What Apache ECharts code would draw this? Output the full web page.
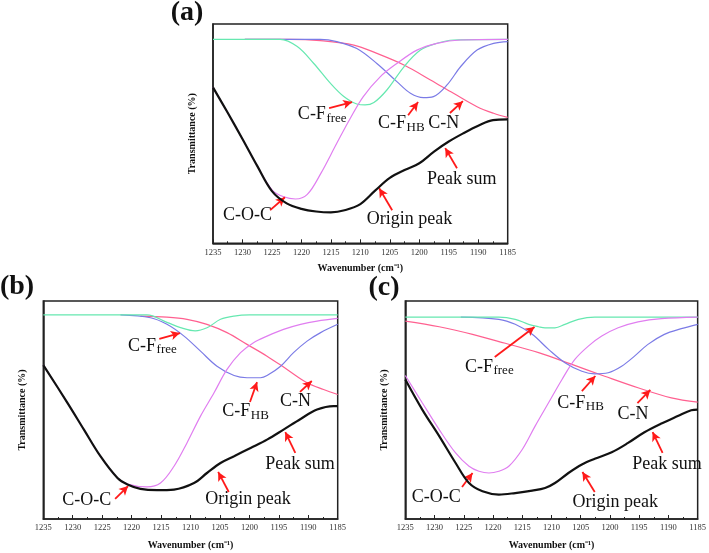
<!DOCTYPE html>
<html><head><meta charset="utf-8">
<script src="https://cdn.jsdelivr.net/npm/echarts@6/dist/echarts.min.js"></script>
<style>html,body{margin:0;padding:0;background:#fff}#c{width:709px;height:553px}</style>
</head><body><div id="c"></div>
<script>
// ---------- data (wavenumber, transmittance in arbitrary units) ----------
const aOrigin = [[1235,71.1],[1232.5,59.5],[1230,47.6],[1227.5,35.3],[1225,23.8],[1222.5,18.2],[1220,15.7],[1217.5,14.5],[1215,14.1],[1212.5,15.2],[1210,17.9],[1207.5,24.0],[1205,29.8],[1202.5,33.4],[1200,36.5],[1197.5,41.8],[1195,46.4],[1192.5,50.2],[1190,53.6],[1187.5,56.2],[1185,56.5]];
const aCOC = [[1235,71.1],[1232.5,59.5],[1230,47.6],[1227.5,35.3],[1225,24.4],[1223,21.2],[1221,20.2],[1219,22.3],[1216.7,31.9],[1214,45.6],[1211.7,57.0],[1209.5,66.9],[1206.6,76.0],[1203.8,82.0],[1200.4,88.1],[1197,91.2],[1193,92.7],[1185,93.0]];
const aFree = [[1235,93.0],[1223.6,93.0],[1220.7,89.7],[1217.9,82.0],[1215.1,73.0],[1212.8,66.9],[1210.6,63.5],[1209.2,63.1],[1207.7,64.2],[1205.5,69.9],[1202.6,80.5],[1199.8,88.1],[1197,91.2],[1194.2,92.7],[1185,93.0]];
const aHB = [[1229.6,93.0],[1216.8,93.0],[1214,92.0],[1210.6,88.8],[1207.2,82.0],[1203.8,73.7],[1201.5,68.4],[1199.3,66.4],[1197.6,66.9],[1195.3,72.2],[1193,80.5],[1190.2,88.1],[1187.4,91.2],[1185,92.0]];
const aCN = [[1229.6,93.0],[1222,93.0],[1216.8,92.4],[1211.1,90.4],[1207.2,86.6],[1202.6,81.3],[1198.1,74.5],[1194.2,68.4],[1190.2,62.3],[1187.4,59.3],[1185,57.4]];

const bOrigin = [[1235,70.6],[1230.9,53.3],[1228.1,41.0],[1225.3,28.8],[1222.4,18.8],[1220.7,15.8],[1218.5,13.8],[1215.7,13.2],[1212.8,13.5],[1209.4,16.5],[1207.2,21.1],[1204.9,25.7],[1202.6,28.8],[1199.8,32.6],[1197,36.4],[1194.2,41.0],[1191.3,45.9],[1188.5,50.2],[1185.7,51.8],[1185,51.8]];
const bCOC = [[1235,70.6],[1230.9,53.3],[1228.1,41.0],[1225.3,28.8],[1222.4,18.8],[1220.7,16.0],[1217.4,14.7],[1215.1,16.5],[1212.8,24.2],[1210.6,34.9],[1208.3,47.2],[1206,57.9],[1203.8,68.6],[1201.5,76.3],[1199.3,80.9],[1197,83.9],[1194.2,87.0],[1191.3,89.3],[1188.5,90.8],[1185,92.0]];
const bFree = [[1235,93.6],[1217.4,93.6],[1214,90.2],[1211.7,87.8],[1209.2,86.3],[1207.2,87.7],[1204.9,91.6],[1202.6,93.1],[1200,93.6],[1185,93.6]];
const bHB = [[1221.9,93.6],[1216.8,92.3],[1214,89.3],[1211.1,83.9],[1208.3,77.0],[1205.5,70.1],[1202.6,65.8],[1200.4,64.8],[1198.1,64.8],[1197,65.8],[1194.7,70.1],[1192.5,76.3],[1190.2,81.6],[1187.9,85.5],[1185,89.3]];
const bCN = [[1218.5,93.1],[1214,92.6],[1210.6,91.6],[1207.2,89.3],[1203.8,85.5],[1200.4,80.1],[1197,74.7],[1193.6,68.6],[1190.2,62.5],[1187.4,59.4],[1185,57.1]];

const cOrigin = [[1235,64.0],[1232.1,50.2],[1229.2,38.0],[1226.4,25.7],[1224.1,16.5],[1221.8,12.7],[1219,11.2],[1216.2,11.9],[1213.3,13.0],[1211.1,14.2],[1209.4,16.5],[1207.1,21.1],[1204.8,25.0],[1202.6,27.6],[1199.7,30.6],[1196.9,34.9],[1194.1,39.8],[1191.2,43.8],[1188.4,47.2],[1186.1,49.9],[1185,50.2]];
const cCOC = [[1235,65.8],[1232.1,53.3],[1229.2,41.0],[1226.4,30.3],[1224.1,24.2],[1222.4,21.9],[1220.7,21.1],[1219,21.9],[1217.3,24.2],[1215,31.9],[1212.8,42.6],[1210.5,53.3],[1208.2,64.0],[1206,73.2],[1203.7,79.3],[1201.4,83.9],[1198.6,87.7],[1195.2,90.4],[1191.2,91.9],[1185,92.6]];
const cFree = [[1235,92.6],[1219,92.6],[1216.2,91.6],[1213.9,89.3],[1212.2,88.2],[1211.1,87.7],[1209.4,87.7],[1207.7,89.3],[1205.4,91.6],[1202.6,92.6],[1185,92.6]];
const cHB = [[1225.5,92.6],[1219,91.6],[1216.2,89.3],[1213.3,84.7],[1210.5,77.8],[1207.7,71.7],[1204.8,67.8],[1202.6,66.6],[1200.3,67.1],[1198,70.1],[1195.8,74.7],[1193.5,80.1],[1190.7,84.7],[1187.8,87.3],[1185,89.3]];
const cCN = [[1235,90.8],[1229.2,88.2],[1223.5,84.7],[1217.9,80.6],[1212.2,76.3],[1206.5,70.9],[1200.9,65.5],[1195.2,60.2],[1189.5,55.6],[1185,53.6]];

// annotations: text anchor (x,y) and arrow [x1,y1,x2,y2], in data units
const annA = [
 {t:'C-F', s:'free', x:1220.6, y:58.9, a:[1215.3,61.6,1211.4,64.4]},
 {t:'C-F', s:'HB', x:1207.0, y:54.8, a:[1201.9,58.4,1200.2,64.4]},
 {t:'C-N', x:1198.5, y:54.8, a:[1194.8,59.4,1192.6,64.8]},
 {t:'Peak sum', x:1198.7, y:29.1, a:[1193.6,34.2,1195.6,43.4]},
 {t:'Origin peak', x:1208.9, y:11.1, a:[1204.6,15.1,1206.8,25.1]},
 {t:'C-O-C', x:1233.3, y:12.8, a:[1225.3,15.1,1222.8,21.0]}
];
const annB = [
 {t:'C-F', s:'free', x:1220.6, y:79.4, a:[1215.3,82.6,1211.8,85.3]},
 {t:'C-F', s:'HB', x:1204.6, y:49.2, a:[1199.9,53.7,1198.7,62.8]},
 {t:'C-N', x:1194.8, y:53.8, a:[1191.4,58.3,1189.4,63.3]},
 {t:'Peak sum', x:1197.3, y:25.1, a:[1192.2,30.3,1193.9,39.9]},
 {t:'Origin peak', x:1207.5, y:8.9, a:[1203.5,12.4,1205.3,21.6]},
 {t:'C-O-C', x:1231.8, y:8.7, a:[1222.8,9.2,1220.6,15.1]}
];
const annC = [
 {t:'C-F', s:'free', x:1224.8, y:69.7, a:[1219.7,74.3,1212.9,88.1]},
 {t:'C-F', s:'HB', x:1209.0, y:53.2, a:[1204.8,58.7,1202.5,65.6]},
 {t:'C-N', x:1198.7, y:48.2, a:[1195.3,53.2,1193.1,59.2]},
 {t:'Peak sum', x:1196.2, y:25.2, a:[1191.0,30.3,1192.7,39.9]},
 {t:'Origin peak', x:1206.4, y:7.8, a:[1202.6,12.4,1204.7,21.6]},
 {t:'C-O-C', x:1233.9, y:10.1, a:[1225.3,14.7,1223.5,21.1]}
];
const panelLabels = ['(a)','(b)','(c)'];

// ---------- chart ----------
const SERIF = '"Liberation Serif","Times New Roman",serif';
const panels = [
  {grid:{left:213, top:24, width:294.7, height:219.3}, data:[aCN,aHB,aFree,aCOC,aOrigin], ann:annA, label:[187,13], nameGap:20},
  {grid:{left:43.3, top:301, width:294.4, height:218}, data:[bCN,bHB,bFree,bCOC,bOrigin], ann:annB, label:[17,287], nameGap:21},
  {grid:{left:405.3, top:301, width:293, height:218}, data:[cCN,cHB,cFree,cCOC,cOrigin], ann:annC, label:[384,288], nameGap:21}
];
const colors = ['#ff6090','#7b7be6','#66e8b0','#e07ef0','#111111'];
const widths = [1.2,1.2,1.2,1.2,2.2];

const option = {
  animation:false,
  backgroundColor:'#fff',
  grid: panels.map(p => Object.assign({show:true, borderColor:'#222', borderWidth:1.5, backgroundColor:'transparent'}, p.grid)),
  xAxis: panels.map((p,i) => ({
    gridIndex:i, type:'value', inverse:true, min:1185, max:1235, interval:5,
    axisLine:{show:true, onZero:false, lineStyle:{color:'#222', width:1.5}},
    axisTick:{show:true, inside:true, length:4, lineStyle:{color:'#222', width:1}},
    minorTick:{show:true, splitNumber:2, length:2, lineStyle:{color:'#222', width:1}},
    axisLabel:{fontFamily:SERIF, fontSize:8.5, color:'#333', margin:4.5, formatter: v => String(v)},
    splitLine:{show:false}, minorSplitLine:{show:false},
    name:'Wavenumber (cm⁻¹)', nameLocation:'middle', nameGap:p.nameGap,
    nameTextStyle:{fontFamily:SERIF, fontWeight:'bold', fontSize:10, color:'#111'}
  })),
  yAxis: panels.map((p,i) => ({
    gridIndex:i, type:'value', min:0, max:100,
    axisLine:{show:true, onZero:false, lineStyle:{color:'#222', width:1.5}},
    axisTick:{show:false}, axisLabel:{show:false}, splitLine:{show:false},
    name:'Transmittance (%)', nameLocation:'middle', nameRotate:90, nameGap:16,
    nameTextStyle:{fontFamily:SERIF, fontWeight:'bold', fontSize:10, color:'#111'}
  })),
  series: [],
  graphic: panels.map((p,i) => ({
    type:'text', x:p.label[0], y:p.label[1],
    style:{text:panelLabels[i], fontFamily:SERIF, fontWeight:'bold', fontSize:28, fill:'#111', align:'center', verticalAlign:'middle'}
  }))
};

panels.forEach((p,i) => {
  p.data.forEach((d,k) => {
    const s = {
      type:'line', xAxisIndex:i, yAxisIndex:i, data:d, showSymbol:false, symbol:'none',
      smooth:0.35, lineStyle:{color:colors[k], width:widths[k]}, silent:true, z: k===4 ? 5 : 3
    };
    if (k === 4) {
      s.markLine = {
        silent:true, symbol:['none','arrow'], symbolSize:[7,9], animation:false,
        label:{show:false}, lineStyle:{color:'#ff1a1a', width:1.8, type:'solid'},
        emphasis:{disabled:true},
        data: p.ann.map(a => [{coord:[a.a[0],a.a[1]]},{coord:[a.a[2],a.a[3]]}])
      };
    }
    option.series.push(s);
  });
});

const chart = echarts.init(document.getElementById('c'), null, {renderer:'canvas'});
chart.setOption(option);

const ctx = document.createElement('canvas').getContext('2d');
const mainFont = 18, subFont = 13;
ctx.font = mainFont + 'px ' + SERIF;
const g = option.graphic.slice();
panels.forEach((p,i) => {
  p.ann.forEach(a => {
    const pt = chart.convertToPixel({gridIndex:i}, [a.x, a.y]);
    g.push({type:'text', x:pt[0], y:pt[1], silent:true,
      style:{text:a.t, fontFamily:SERIF, fontSize:mainFont, fill:'#111', align:'left', verticalAlign:'middle'}});
    if (a.s) {
      const w = ctx.measureText(a.t).width;
      g.push({type:'text', x:pt[0] + w + 0.5, y:pt[1] + 4, silent:true,
        style:{text:a.s, fontFamily:SERIF, fontSize:subFont, fill:'#111', align:'left', verticalAlign:'middle'}});
    }
  });
});
chart.setOption({graphic:g});
</script></body></html>
